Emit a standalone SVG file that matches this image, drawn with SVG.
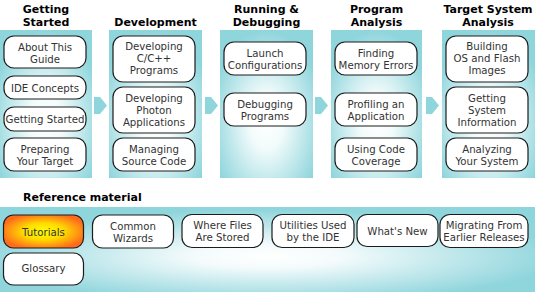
<svg xmlns="http://www.w3.org/2000/svg" width="535" height="292" viewBox="0 0 535 292">
  <defs>
    <radialGradient id="panelGrad" cx="0.5" cy="0.62" r="0.62">
      <stop offset="0" stop-color="#ffffff"/>
      <stop offset="0.3" stop-color="#f2fbfb"/>
      <stop offset="1" stop-color="#8ed5dc"/>
    </radialGradient>
    <radialGradient id="bandGrad" cx="0.5" cy="0.58" r="0.55">
      <stop offset="0" stop-color="#ffffff"/>
      <stop offset="0.25" stop-color="#f4fbfc"/>
      <stop offset="1" stop-color="#8ed5dc"/>
    </radialGradient>
    <radialGradient id="tutGrad" cx="0.5" cy="0.5" r="0.55">
      <stop offset="0" stop-color="#ffff00"/>
      <stop offset="0.45" stop-color="#ffdc00"/>
      <stop offset="1" stop-color="#ff6a1c"/>
    </radialGradient>
  </defs>
  <style>
    .panel { fill: url(#panelGrad); }
    .band { fill: url(#bandGrad); }
    .box { fill: #ffffff; stroke: #1c1c1c; stroke-width: 1.2; }
    .tut { fill: url(#tutGrad); stroke: #1c1c1c; stroke-width: 1.2; }
    .hdr { font-family: "DejaVu Sans", Verdana, sans-serif; font-weight: bold; font-size: 11px; fill: #000; text-anchor: middle; }
    .hdrl { font-family: "DejaVu Sans", Verdana, sans-serif; font-weight: bold; font-size: 11px; fill: #000; }
    .lbl { font-family: "DejaVu Sans", Verdana, sans-serif; font-size: 10.2px; fill: #333; text-anchor: middle; }
    .arrow { fill: #8ed5dc; }
  </style>

  <!-- panels -->
  <g id="panel-getting-started">
    <rect class="panel" x="0" y="30" width="92" height="148"/>
    <text class="hdr" x="46" y="12.5">Getting</text>
    <text class="hdr" x="46" y="25.5">Started</text>
  </g>
  <g id="panel-development">
    <rect class="panel" x="109" y="30" width="93" height="148"/>
    <text class="hdr" x="155.5" y="25.5">Development</text>
  </g>
  <g id="panel-running">
    <rect class="panel" x="220" y="30" width="93" height="148"/>
    <text class="hdr" x="266.5" y="12.5">Running &amp;</text>
    <text class="hdr" x="266.5" y="25.5">Debugging</text>
  </g>
  <g id="panel-program-analysis">
    <rect class="panel" x="331" y="30" width="91" height="148"/>
    <text class="hdr" x="376.5" y="12.5">Program</text>
    <text class="hdr" x="376.5" y="25.5">Analysis</text>
  </g>
  <g id="panel-target-analysis">
    <rect class="panel" x="442" y="30" width="93" height="148"/>
    <text class="hdr" x="488" y="12.5">Target System</text>
    <text class="hdr" x="488" y="25.5">Analysis</text>
  </g>

  <!-- connectors -->
  <g id="connectors">
    <polygon class="arrow" points="94,97 100,97 107,105.5 100,114 94,114"/>
    <polygon class="arrow" points="205,97 211,97 218,105.5 211,114 205,114"/>
    <polygon class="arrow" points="315,97 321,97 328,105.5 321,114 315,114"/>
    <polygon class="arrow" points="426,97 432,97 439,105.5 432,114 426,114"/>
  </g>

  <!-- Getting Started nodes -->
  <g id="about-this-guide">
    <rect class="box" x="4" y="36" width="82" height="32" rx="10"/>
    <text class="lbl" x="45" y="50.5">About This</text>
    <text class="lbl" x="45" y="62.5">Guide</text>
  </g>
  <g id="ide-concepts">
    <rect class="box" x="4" y="76" width="82" height="23" rx="10"/>
    <text class="lbl" x="45" y="92">IDE Concepts</text>
  </g>
  <g id="getting-started">
    <rect class="box" x="4" y="107" width="82" height="24" rx="10"/>
    <text class="lbl" x="45" y="122.5">Getting Started</text>
  </g>
  <g id="preparing-your-target">
    <rect class="box" x="4" y="138" width="82" height="33" rx="10"/>
    <text class="lbl" x="45" y="152.5">Preparing</text>
    <text class="lbl" x="45" y="164.5">Your Target</text>
  </g>

  <!-- Development nodes -->
  <g id="developing-cpp">
    <rect class="box" x="113" y="36" width="82" height="46" rx="10"/>
    <text class="lbl" x="154" y="50">Developing</text>
    <text class="lbl" x="154" y="62">C/C++</text>
    <text class="lbl" x="154" y="74">Programs</text>
  </g>
  <g id="developing-photon">
    <rect class="box" x="113" y="87" width="82" height="46" rx="10"/>
    <text class="lbl" x="154" y="101.5">Developing</text>
    <text class="lbl" x="154" y="113.5">Photon</text>
    <text class="lbl" x="154" y="125.5">Applications</text>
  </g>
  <g id="managing-source">
    <rect class="box" x="113" y="138" width="82" height="33" rx="10"/>
    <text class="lbl" x="154" y="152.5">Managing</text>
    <text class="lbl" x="154" y="164.5">Source Code</text>
  </g>

  <!-- Running & Debugging nodes -->
  <g id="launch-configurations">
    <rect class="box" x="224" y="42" width="82" height="33" rx="10"/>
    <text class="lbl" x="265" y="56.5">Launch</text>
    <text class="lbl" x="265" y="68.5">Configurations</text>
  </g>
  <g id="debugging-programs">
    <rect class="box" x="224" y="93" width="82" height="33" rx="10"/>
    <text class="lbl" x="265" y="107.5">Debugging</text>
    <text class="lbl" x="265" y="119.5">Programs</text>
  </g>

  <!-- Program Analysis nodes -->
  <g id="finding-memory-errors">
    <rect class="box" x="335" y="42" width="82" height="33" rx="10"/>
    <text class="lbl" x="376" y="56.5">Finding</text>
    <text class="lbl" x="376" y="68.5">Memory Errors</text>
  </g>
  <g id="profiling-application">
    <rect class="box" x="335" y="93" width="82" height="33" rx="10"/>
    <text class="lbl" x="376" y="107.5">Profiling an</text>
    <text class="lbl" x="376" y="119.5">Application</text>
  </g>
  <g id="using-code-coverage">
    <rect class="box" x="335" y="138" width="82" height="33" rx="10"/>
    <text class="lbl" x="376" y="152.5">Using Code</text>
    <text class="lbl" x="376" y="164.5">Coverage</text>
  </g>

  <!-- Target System Analysis nodes -->
  <g id="building-os-flash">
    <rect class="box" x="446" y="36" width="82" height="46" rx="10"/>
    <text class="lbl" x="487" y="50">Building</text>
    <text class="lbl" x="487" y="62">OS and Flash</text>
    <text class="lbl" x="487" y="74">Images</text>
  </g>
  <g id="getting-system-info">
    <rect class="box" x="446" y="87" width="82" height="46" rx="10"/>
    <text class="lbl" x="487" y="101.5">Getting</text>
    <text class="lbl" x="487" y="113.5">System</text>
    <text class="lbl" x="487" y="125.5">Information</text>
  </g>
  <g id="analyzing-your-system">
    <rect class="box" x="446" y="138" width="82" height="33" rx="10"/>
    <text class="lbl" x="487" y="152.5">Analyzing</text>
    <text class="lbl" x="487" y="164.5">Your System</text>
  </g>

  <!-- Reference material -->
  <g id="reference-material">
    <text class="hdrl" x="23" y="200.5">Reference material</text>
    <rect class="band" x="0" y="207" width="535" height="85"/>
  </g>
  <g id="tutorials">
    <rect class="tut" x="3.5" y="215" width="80" height="33" rx="10"/>
    <text class="lbl" x="43.5" y="235.5">Tutorials</text>
  </g>
  <g id="common-wizards">
    <rect class="box" x="92.5" y="215" width="81" height="33" rx="10"/>
    <text class="lbl" x="133" y="229.5">Common</text>
    <text class="lbl" x="133" y="241.5">Wizards</text>
  </g>
  <g id="where-files-stored">
    <rect class="box" x="182" y="214.5" width="81" height="33" rx="10"/>
    <text class="lbl" x="222.5" y="229">Where Files</text>
    <text class="lbl" x="222.5" y="241">Are Stored</text>
  </g>
  <g id="utilities-used">
    <rect class="box" x="272" y="214.5" width="82" height="33" rx="10"/>
    <text class="lbl" x="313" y="229">Utilities Used</text>
    <text class="lbl" x="313" y="241">by the IDE</text>
  </g>
  <g id="whats-new">
    <rect class="box" x="357" y="214.5" width="81" height="32" rx="10"/>
    <text class="lbl" x="397.5" y="234.5">What's New</text>
  </g>
  <g id="migrating">
    <rect class="box" x="440" y="214.5" width="88" height="33" rx="10"/>
    <text class="lbl" x="484" y="229">Migrating From</text>
    <text class="lbl" x="484" y="241">Earlier Releases</text>
  </g>
  <g id="glossary">
    <rect class="box" x="3.5" y="253" width="80" height="32" rx="10"/>
    <text class="lbl" x="43.5" y="272">Glossary</text>
  </g>
</svg>
